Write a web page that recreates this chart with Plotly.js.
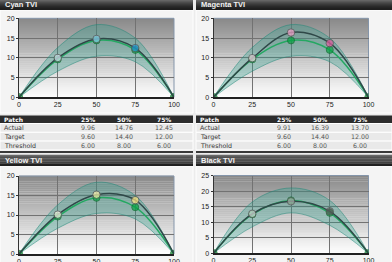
<!DOCTYPE html>
<html><head><meta charset="utf-8">
<script src="https://cdn.plot.ly/plotly-3.0.1.min.js"></script>
<style>html,body{margin:0;padding:0;background:#ececec;}#chart{width:392px;height:262px;}</style>
</head><body><div id="chart"></div>
<script>
// ---- data ----
const patches = [0, 25, 50, 75, 100];
const tableHeader = ['Patch', '25%', '50%', '75%'];
const rowLabels = ['Actual', 'Target', 'Threshold'];
const panelTitles = ['Cyan TVI', 'Magenta TVI', 'Yellow TVI', 'Black TVI'];

const cyanActual = [9.96, 14.76, 12.45];
const cyanTarget = [9.60, 14.40, 12.00];
const cyanThreshold = [6.00, 8.00, 6.00];

const magentaActual = [9.91, 16.39, 13.70];
const magentaTarget = [9.60, 14.40, 12.00];
const magentaThreshold = [6.00, 8.00, 6.00];

const yellowActual = [10.1, 15.2, 13.8];
const yellowTarget = [9.60, 14.40, 12.00];
const yellowThreshold = [6.00, 8.00, 6.00];

const blackActual = [12.7, 16.7, 13.5];
const blackTarget = [12.5, 17.0, 13.0];
const blackThreshold = [8.00, 8.00, 8.00];

// ---- layout / style config ----
const W = 392, H = 262;
const fx = x => x / W, fy = y => 1 - y / H;

const panels = [
  {title: panelTitles[0], x0: 0, x1: 193, bar: [0, 10], box: [10, 113], plotX: [19, 174], plotY: [18.3, 97.3],
   actual: cyanActual, target: cyanTarget, threshold: cyanThreshold, ymax: 20,
   colors: ['#dbe8f8', '#8ed2f5', '#2499dc'], table: true},
  {title: panelTitles[1], x0: 196, x1: 392, bar: [0, 10], box: [10, 113], plotX: [213.5, 368.5], plotY: [18.3, 97.3],
   actual: magentaActual, target: magentaTarget, threshold: magentaThreshold, ymax: 20,
   colors: ['#fbdbe9', '#f7a2cc', '#e45aa0'], table: true},
  {title: panelTitles[2], x0: 0, x1: 193, bar: [155, 166], box: [166, 263], plotX: [19, 174], plotY: [176, 254],
   actual: yellowActual, target: yellowTarget, threshold: yellowThreshold, ymax: 20,
   colors: ['#fffcea', '#fff4ae', '#ffe680'], table: false},
  {title: panelTitles[3], x0: 196, x1: 392, bar: [155, 166], box: [166, 263], plotX: [213.5, 368.5], plotY: [175.5, 253.3],
   actual: blackActual, target: blackTarget, threshold: blackThreshold, ymax: 25,
   colors: ['#dadada', '#adadad', '#5c5c5c'], table: false}
];

const tickFont = {family: 'Liberation Sans, Arial, sans-serif', size: 7, color: '#222'};
const tableFont = 'DejaVu Sans, Verdana, sans-serif';
const colCenters = [88, 124, 164];

const data = [];
const layout = {
  width: W, height: H, margin: {l: 0, r: 0, t: 0, b: 0},
  paper_bgcolor: '#ececec', plot_bgcolor: 'rgba(0,0,0,0)',
  showlegend: false, hovermode: false, shapes: [], annotations: []
};

panels.forEach((p, i) => {
  const k = i === 0 ? '' : String(i + 1);
  const xid = 'x' + k, yid = 'y' + k;

  // container box
  layout.shapes.push({type: 'rect', xref: 'paper', yref: 'paper', layer: 'below',
    x0: fx(p.x0), x1: fx(p.x1), y0: fy(p.box[1]), y1: fy(p.box[0]),
    fillcolor: '#f4f4f4', line: {color: '#ffffff', width: 1}});

  // title bar gradient
  const nb = 10;
  for (let j = 0; j < nb; j++) {
    const s = (j + 0.5) / nb;
    const g = Math.round(30 + 80 * Math.pow(1 - s, 1.6));
    const yA = p.bar[0] + (p.bar[1] - p.bar[0]) * j / nb;
    const yB = p.bar[0] + (p.bar[1] - p.bar[0]) * (j + 1) / nb;
    layout.shapes.push({type: 'rect', xref: 'paper', yref: 'paper', layer: 'below',
      x0: fx(p.x0), x1: fx(p.x1), y0: fy(yB), y1: fy(yA) + 0.0005,
      fillcolor: `rgb(${g},${g},${g})`, line: {width: 0}});
  }
  layout.annotations.push({xref: 'paper', yref: 'paper', x: fx(p.x0 + 3), y: fy((p.bar[0] + p.bar[1]) / 2),
    xanchor: 'left', yanchor: 'middle', showarrow: false, text: p.title,
    font: {family: 'Liberation Sans, Arial, sans-serif', size: 7.5, color: '#f2f2f2', weight: 'bold'}});

  // plot background gradient
  const ng = 40;
  for (let j = 0; j < ng; j++) {
    const t = (j + 0.5) / ng;
    const g = Math.round(255 - 118 * t);
    layout.shapes.push({type: 'rect', xref: xid + ' domain', yref: yid + ' domain', layer: 'below',
      x0: 0, x1: 1, y0: j / ng, y1: (j + 1) / ng + 0.002,
      fillcolor: `rgb(${g},${g},${g})`, line: {width: 0}});
  }
  // top & right frame lines
  layout.shapes.push({type: 'line', xref: xid + ' domain', yref: yid + ' domain', layer: 'below',
    x0: 0, x1: 1, y0: 1, y1: 1, line: {color: '#8495aa', width: 1}});
  layout.shapes.push({type: 'line', xref: xid + ' domain', yref: yid + ' domain', layer: 'below',
    x0: 1, x1: 1, y0: 0, y1: 1, line: {color: '#8495aa', width: 1}});

  layout['xaxis' + k] = {
    domain: [fx(p.plotX[0]), fx(p.plotX[1])], anchor: yid, range: [0, 100],
    tickvals: patches, ticktext: patches.map(String),
    showgrid: true, gridcolor: '#727272', gridwidth: 1, zeroline: false,
    showline: true, linecolor: '#222', linewidth: 1.5, ticks: '', tickfont: tickFont, fixedrange: true
  };
  layout['yaxis' + k] = {
    domain: [fy(p.plotY[1]), fy(p.plotY[0])], anchor: xid, range: [0, p.ymax],
    tick0: 0, dtick: 5, showgrid: true, gridcolor: '#727272', gridwidth: 1, zeroline: false,
    showline: true, linecolor: '#333', linewidth: 1, ticks: 'outside', ticklen: 2, tickcolor: '#333',
    tickfont: tickFont, fixedrange: true
  };

  const lower = [0, ...p.target.map((t, j) => t - p.threshold[j] / 2), 0];
  const upper = [0, ...p.target.map((t, j) => t + p.threshold[j] / 2), 0];
  const bandLine = {shape: 'spline', color: 'rgba(30,135,120,0.5)', width: 1};

  data.push({x: patches, y: lower, xaxis: xid, yaxis: yid, mode: 'lines', line: bandLine, hoverinfo: 'skip'});
  data.push({x: patches, y: upper, xaxis: xid, yaxis: yid, mode: 'lines', line: bandLine,
    fill: 'tonexty', fillcolor: 'rgba(35,160,140,0.3)', hoverinfo: 'skip'});
  data.push({x: patches, y: [0, ...p.target, 0], xaxis: xid, yaxis: yid, mode: 'lines+markers',
    line: {shape: 'spline', color: '#24a862', width: 1.5},
    marker: {size: [7.5, 7, 7, 7, 7.5], color: ['#00801e', '#07a342', '#07a342', '#07a342', '#00801e'],
      line: {color: '#0b6a2b', width: 1}}});
  data.push({x: patches, y: [0, ...p.actual, 0], xaxis: xid, yaxis: yid, mode: 'lines+markers',
    line: {shape: 'spline', color: '#2f4848', width: 1.5},
    marker: {size: [0, 7.5, 7.5, 7.5, 0], color: ['rgba(0,0,0,0)', ...p.colors, 'rgba(0,0,0,0)'],
      line: {color: '#555', width: [0, 1, 1, 1, 0]}}});

  // table
  if (p.table) {
    const hdr = [115.5, 123.5];
    const rowH = 8.8;
    layout.shapes.push({type: 'rect', xref: 'paper', yref: 'paper', layer: 'below',
      x0: fx(p.x0), x1: fx(p.x1), y0: fy(hdr[1]), y1: fy(hdr[0]),
      fillcolor: '#2c2c2c', line: {width: 0}});
    tableHeader.forEach((h, c) => {
      layout.annotations.push({xref: 'paper', yref: 'paper',
        x: c === 0 ? fx(p.x0 + 2) : fx(p.x0 + colCenters[c - 1]), y: fy((hdr[0] + hdr[1]) / 2),
        xanchor: c === 0 ? 'left' : 'center', yanchor: 'middle', showarrow: false, text: h,
        font: {family: tableFont, size: 6, color: '#ffffff', weight: 'bold'}});
    });
    const rows = [p.actual, p.target, p.threshold];
    rows.forEach((vals, r) => {
      const yA = hdr[1] + r * rowH, yB = yA + rowH;
      layout.shapes.push({type: 'rect', xref: 'paper', yref: 'paper', layer: 'below',
        x0: fx(p.x0), x1: fx(p.x1), y0: fy(yB), y1: fy(yA),
        fillcolor: '#e9e9e9', line: {color: '#ffffff', width: 1}});
      layout.annotations.push({xref: 'paper', yref: 'paper', x: fx(p.x0 + 2), y: fy((yA + yB) / 2),
        xanchor: 'left', yanchor: 'middle', showarrow: false, text: rowLabels[r],
        font: {family: tableFont, size: 6.3, color: '#333'}});
      vals.forEach((v, c) => {
        layout.annotations.push({xref: 'paper', yref: 'paper', x: fx(p.x0 + colCenters[c]), y: fy((yA + yB) / 2),
          xanchor: 'center', yanchor: 'middle', showarrow: false, text: v.toFixed(2),
          font: {family: tableFont, size: 6.3, color: '#555'}});
      });
    });
    const tEnd = hdr[1] + 3 * rowH;
    layout.shapes.push({type: 'rect', xref: 'paper', yref: 'paper', layer: 'below',
      x0: fx(p.x0), x1: fx(p.x1), y0: fy(tEnd + 3), y1: fy(tEnd + 1.2),
      fillcolor: '#3a3a3a', line: {width: 0}});
  }
});

Plotly.newPlot('chart', data, layout, {staticPlot: true, displayModeBar: false});
</script>
</body></html>
